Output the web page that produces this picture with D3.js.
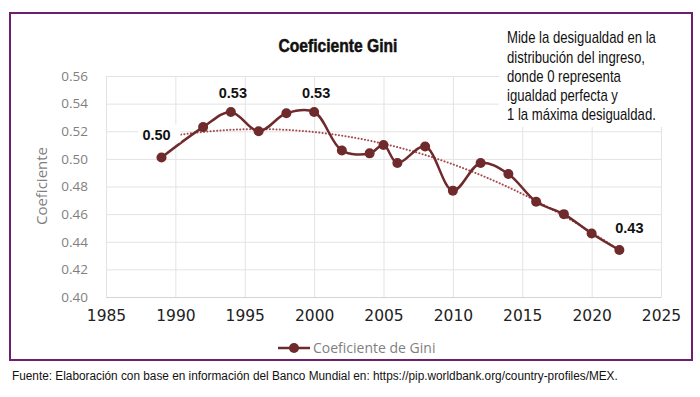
<!DOCTYPE html>
<html>
<head>
<meta charset="utf-8">
<script src="https://cdn.jsdelivr.net/npm/d3@7"></script>
<style>
  body { margin: 0; background: #fff; }
  svg { display: block; }
</style>
</head>
<body>
<div id="chart"></div>
<script>
// Gini coefficient, Mexico
const years = [1989, 1992, 1994, 1996, 1998, 2000, 2002, 2004, 2005, 2006, 2008, 2010, 2012, 2014, 2016, 2018, 2020, 2022];
const gini = [0.501, 0.523, 0.534, 0.520, 0.533, 0.534, 0.506, 0.504, 0.510, 0.497, 0.509, 0.477, 0.497, 0.489, 0.469, 0.460, 0.446, 0.434];
const labelledYears = [1989, 1994, 2000, 2022];
const xTicks = [1985, 1990, 1995, 2000, 2005, 2010, 2015, 2020, 2025];
const yTicks = [0.40, 0.42, 0.44, 0.46, 0.48, 0.50, 0.52, 0.54, 0.56];
const noteLines = ['Mide la desigualdad en la', 'distribución del ingreso,', 'donde 0 representa', 'igualdad perfecta y', '1 la máxima desigualdad.'];

const sans = '"Liberation Sans", Arial, sans-serif';
const lineColor = '#6f2a2c';

const width = 700, height = 397;
const margin = { top: 76, right: 39, bottom: 100, left: 106 };
const w = width - margin.left - margin.right;
const h = height - margin.top - margin.bottom;

const data = years.map((y, i) => ({ year: y, value: gini[i] }));

// squeeze text horizontally (no condensed face installed)
function condense(sel, x0, k) {
  sel.attr('transform', `translate(${x0},0) scale(${k},1) translate(${-x0},0)`);
}

const svg = d3.select('#chart').append('svg')
  .attr('width', width)
  .attr('height', height);

svg.append('rect')
  .attr('x', 10).attr('y', 13)
  .attr('width', 682).attr('height', 347)
  .attr('fill', '#fff')
  .attr('stroke', '#6e1f6f')
  .attr('stroke-width', 2);

const chart = svg.append('g')
  .attr('transform', `translate(${margin.left},${margin.top})`);

const x = d3.scaleLinear().domain([1985, 2025]).range([0, w]);
const y = d3.scaleLinear().domain([0.40, 0.56]).range([h, 0]);

// gridlines
const yGrid = d3.axisLeft(y).tickValues(yTicks).tickSize(-w).tickFormat('');
chart.append('g').call(yGrid)
  .call(g => g.select('.domain').remove())
  .call(g => g.selectAll('line').attr('stroke', '#e3e3e3').attr('stroke-width', 1));

const xGrid = d3.axisBottom(x).tickValues(xTicks).tickSize(-h).tickFormat('');
chart.append('g').attr('transform', `translate(0,${h})`).call(xGrid)
  .call(g => g.select('.domain').remove())
  .call(g => g.selectAll('line').attr('stroke', '#e3e3e3').attr('stroke-width', 1));

// axes
const yAxis = d3.axisLeft(y).tickValues(yTicks).tickSize(0).tickPadding(18).tickFormat(d3.format('.2f'));
chart.append('g').call(yAxis)
  .call(g => g.select('.domain').remove())
  .call(g => g.selectAll('text')
    .attr('fill', '#7f7f7f')
    .style('font-family', '"Open Sans", sans-serif')
    .style('font-size', '13.5px'));

const xAxis = d3.axisBottom(x).tickValues(xTicks).tickSize(0).tickPadding(13).tickFormat(d3.format('d'));
chart.append('g').attr('transform', `translate(0,${h})`).call(xAxis)
  .call(g => g.select('.domain').attr('stroke', '#d4d4d4'))
  .call(g => g.selectAll('text')
    .attr('fill', '#222')
    .style('font-family', '"DejaVu Sans", sans-serif')
    .style('font-size', '15.5px'));

// y title
svg.append('text')
  .attr('transform', `translate(47,${margin.top + 110}) rotate(-90)`)
  .attr('text-anchor', 'middle')
  .attr('fill', '#7f7f7f')
  .style('font-family', '"Open Sans", sans-serif')
  .style('font-size', '15px')
  .text('Coeficiente');

// polynomial (order 2) trendline, least squares on the series
function quadFit(xs, ys) {
  const x0 = d3.mean(xs);
  const t = xs.map(v => v - x0);
  const s = k => d3.sum(t, v => Math.pow(v, k));
  const sy = k => d3.sum(t, (v, i) => Math.pow(v, k) * ys[i]);
  const A = [[s(0), s(1), s(2)], [s(1), s(2), s(3)], [s(2), s(3), s(4)]];
  const b = [sy(0), sy(1), sy(2)];
  for (let i = 0; i < 3; i++) {
    for (let j = i + 1; j < 3; j++) {
      const f = A[j][i] / A[i][i];
      for (let k = i; k < 3; k++) A[j][k] -= f * A[i][k];
      b[j] -= f * b[i];
    }
  }
  const c = [0, 0, 0];
  for (let i = 2; i >= 0; i--) {
    let acc = b[i];
    for (let k = i + 1; k < 3; k++) acc -= A[i][k] * c[k];
    c[i] = acc / A[i][i];
  }
  return v => c[0] + c[1] * (v - x0) + c[2] * (v - x0) * (v - x0);
}
const trend = quadFit(years, gini);
const trendData = d3.range(years[0], years[years.length - 1] + 0.01, 0.5).map(v => ({ year: v, value: trend(v) }));

chart.append('path')
  .datum(trendData)
  .attr('fill', 'none')
  .attr('stroke', '#a4494c')
  .attr('stroke-width', 2)
  .attr('stroke-linecap', 'round')
  .attr('stroke-dasharray', '0.1 3.2')
  .attr('d', d3.line().x(d => x(d.year)).y(d => y(d.value)));

// series
const line = d3.line()
  .x(d => x(d.year))
  .y(d => y(d.value))
  .curve(d3.curveCatmullRom.alpha(0.5));

chart.append('path')
  .datum(data)
  .attr('fill', 'none')
  .attr('stroke', lineColor)
  .attr('stroke-width', 2.5)
  .attr('d', line);

chart.selectAll('.dot')
  .data(data)
  .enter()
  .append('circle')
  .classed('dot', true)
  .attr('cx', d => x(d.year))
  .attr('cy', d => y(d.value))
  .attr('r', 5)
  .attr('fill', lineColor);

// data labels
const labelPos = { 1989: [-5, -23], 1994: [2, -19], 2000: [2, -19], 2022: [10, -22] };
const lbl = chart.selectAll('.lbl')
  .data(data.filter(d => labelledYears.includes(d.year)))
  .enter()
  .append('g')
  .classed('lbl', true)
  .attr('transform', d => `translate(${x(d.year) + labelPos[d.year][0]},${y(d.value) + labelPos[d.year][1]})`);
lbl.append('rect')
  .attr('x', d => d.year === 1989 ? -18 : -17)
  .attr('y', -10)
  .attr('width', d => d.year === 1989 ? 42 : 34)
  .attr('height', 18)
  .attr('fill', d => d.year === 1989 ? '#fff' : 'none');
lbl.append('text')
  .attr('text-anchor', 'middle')
  .attr('dy', '0.35em')
  .attr('fill', '#111')
  .style('font-family', sans)
  .style('font-weight', 'bold')
  .style('font-size', '14.5px')
  .text(d => d3.format('.2f')(d.value));

// title
const title = svg.append('text')
  .attr('x', 338).attr('y', 52)
  .attr('text-anchor', 'middle')
  .attr('fill', '#111')
  .attr('stroke', '#111')
  .attr('stroke-width', 0.5)
  .style('font-family', sans)
  .style('font-weight', 'bold')
  .style('font-size', '18px')
  .text('Coeficiente Gini');
condense(title, 338, 119 / title.node().getComputedTextLength());

// note box (covers the grid behind it)
svg.append('rect')
  .attr('x', 499).attr('y', 26)
  .attr('width', 190).attr('height', 101)
  .attr('fill', '#fff');
const notes = svg.append('g');
notes.selectAll('.note')
  .data(noteLines)
  .enter()
  .append('text')
  .classed('note', true)
  .attr('x', 507)
  .attr('y', (d, i) => 43.5 + i * 19.2)
  .attr('fill', '#111')
  .style('font-family', sans)
  .style('font-size', '16px')
  .text(d => d);
condense(notes, 507, 149 / notes.select('text').node().getComputedTextLength());

// legend
const leg = svg.append('g').attr('transform', 'translate(278,348)');
leg.append('line').attr('x1', 0).attr('x2', 32).attr('stroke', lineColor).attr('stroke-width', 2.5);
leg.append('circle').attr('cx', 16).attr('r', 5).attr('fill', lineColor);
leg.append('text')
  .attr('x', 35).attr('dy', '0.35em')
  .attr('fill', '#7f7f7f')
  .style('font-family', '"Open Sans", sans-serif')
  .style('font-size', '14px')
  .text('Coeficiente de Gini');

// source
const source = svg.append('text')
  .attr('x', 12).attr('y', 380.5)
  .attr('fill', '#111')
  .style('font-family', sans)
  .style('font-size', '12.5px')
  .text('Fuente: Elaboración con base en información del Banco Mundial en: https://pip.worldbank.org/country-profiles/MEX.');
condense(source, 12, 606 / source.node().getComputedTextLength());
</script>
</body>
</html>
